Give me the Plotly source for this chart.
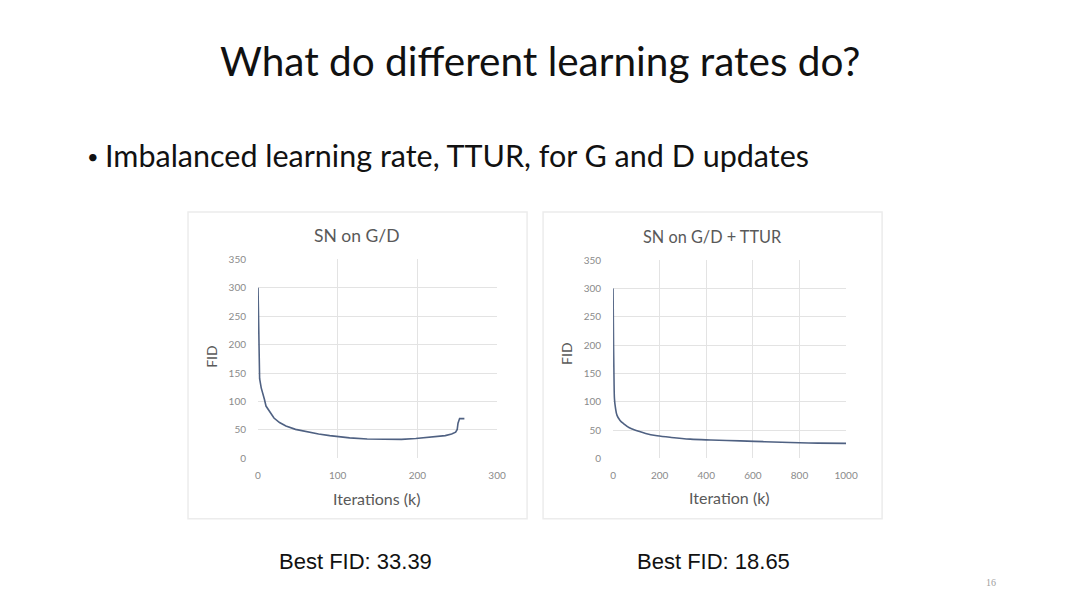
import plotly.graph_objects as go

W, H = 1080, 608

# left chart: SN on G/D
sn_iters = [0, 1, 2, 4, 6, 8, 10, 13, 16, 20, 27, 35, 47, 60, 76, 90, 100, 115, 137, 150, 166, 180, 198, 210, 223, 235, 243, 248, 250, 251, 253, 259]
sn_fid = [300, 180, 140, 124, 115, 104, 92, 85, 78, 71, 63, 57, 51, 47, 43, 40, 38, 36, 34, 33.5, 33, 33.5, 35, 36.5, 38, 40, 43, 46, 51, 62, 70, 70]

# right chart: SN on G/D + TTUR
ttur_iters = [0, 2, 4, 6, 10, 17, 30, 46, 70, 103, 140, 189, 250, 331, 420, 546, 650, 760, 880, 1000]
ttur_fid = [300, 200, 140, 105, 90, 76, 67, 61, 54, 49, 44, 40, 37, 34, 32.5, 31, 29.5, 28, 27, 26.5]

left_xticks = [0, 100, 200, 300]
right_xticks = [0, 200, 400, 600, 800, 1000]
yticks = [0, 50, 100, 150, 200, 250, 300, 350]

line_color = "#4f6182"
tick_font = dict(family="Lato", size=10, color="#8a8a8a")
grid = "#e3e3e3"


# screen pixel -> paper fraction (page is drawn slightly offset/scaled)
def px(x):
    return (x - 11) / 0.986 / W


def py(y):
    return 1 - (y - 16) / 0.975 / H


fig = go.Figure()
fig.add_trace(go.Scatter(x=sn_iters, y=sn_fid, mode="lines",
                         line=dict(color=line_color, width=1.6),
                         xaxis="x", yaxis="y", showlegend=False))
fig.add_trace(go.Scatter(x=ttur_iters, y=ttur_fid, mode="lines",
                         line=dict(color=line_color, width=1.6, shape="spline"),
                         xaxis="x2", yaxis="y2", showlegend=False))

axis_common = dict(showgrid=True, gridcolor=grid, gridwidth=1, zeroline=False,
                   showline=False, ticks="", tickfont=tick_font, fixedrange=True)

fig.update_layout(
    width=W, height=H,
    margin=dict(l=0, r=0, t=0, b=0),
    paper_bgcolor="white", plot_bgcolor="white",
    font=dict(family="Lato"),
    xaxis=dict(domain=[px(258), px(497)], range=[0, 300], tickvals=left_xticks,
               anchor="y", ticklabelstandoff=10, **axis_common),
    yaxis=dict(domain=[py(458), py(260)], range=[0, 350], tickvals=yticks,
               anchor="x", ticklabelstandoff=11, **axis_common),
    xaxis2=dict(domain=[px(613), px(846)], range=[0, 1000], tickvals=right_xticks,
                anchor="y2", ticklabelstandoff=10, **axis_common),
    yaxis2=dict(domain=[py(458), py(261)], range=[0, 350], tickvals=yticks,
                anchor="x2", ticklabelstandoff=11, **axis_common),
)

# chart boxes
for x0, x1 in [(188, 527), (543, 882)]:
    fig.add_shape(type="rect", xref="paper", yref="paper",
                  x0=px(x0), x1=px(x1), y0=py(518), y1=py(213),
                  line=dict(color="#ececec", width=1.5), fillcolor="rgba(0,0,0,0)",
                  layer="below")

# (text, x, y of letter centre, size, colour, family, anchor)
texts = [
    ("What do different learning rates do?", 540, 62, 40.5, "#111111", "Lato", "center"),
    ("\u2022", 93, 157, 20, "#111111", "Lato", "center"),
    ("Imbalanced learning rate, TTUR, for G and D updates", 103, 156, 30.5, "#111111", "Lato", "left"),
    ("SN on G/D", 357, 236, 17.5, "#595959", "Lato", "center"),
    ("SN on G/D + TTUR", 712, 237, 16.3, "#595959", "Lato", "center"),
    ("Iterations (k)", 377, 498, 16, "#595959", "Lato", "center"),
    ("Iteration (k)", 729, 497, 16, "#595959", "Lato", "center"),
    ("Best FID: 33.39", 355, 561, 22, "#111111", "Liberation Sans", "center"),
    ("Best FID: 18.65", 713, 561, 22, "#111111", "Liberation Sans", "center"),
    ("16", 991, 581, 10, "#a0a0a0", "Liberation Serif", "center"),
]
for t, x, y, s, c, f, a in texts:
    fig.add_annotation(text=t, x=px(x), y=py(y), xref="paper", yref="paper",
                       showarrow=False, xanchor=a, yanchor="middle",
                       font=dict(size=s, color=c, family=f))

for x, y in [(212, 357), (567, 354)]:
    fig.add_annotation(text="FID", x=px(x), y=py(y), xref="paper", yref="paper",
                       showarrow=False, textangle=-90, xanchor="center", yanchor="middle",
                       font=dict(size=14, color="#595959", family="Lato"))

fig.write_html("out.html")
